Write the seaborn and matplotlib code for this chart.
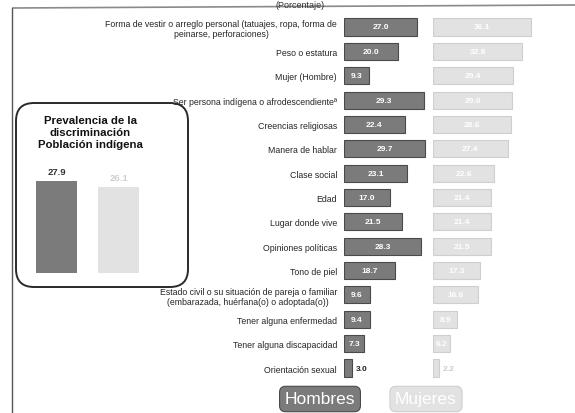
import matplotlib
matplotlib.use("Agg")
import matplotlib.pyplot as plt
from matplotlib.patches import FancyBboxPatch
import seaborn as sns
import pandas as pd

categorias = [
    "Forma de vestir o arreglo personal (tatuajes, ropa, forma de\npeinarse, perforaciones)",
    "Peso o estatura",
    "Mujer (Hombre)",
    "Ser persona indígena o afrodescendiente\u00aa",
    "Creencias religiosas",
    "Manera de hablar",
    "Clase social",
    "Edad",
    "Lugar donde vive",
    "Opiniones políticas",
    "Tono de piel",
    "Estado civil o su situación de pareja o familiar\n(embarazada, huérfana(o) o adoptada(o))",
    "Tener alguna enfermedad",
    "Tener alguna discapacidad",
    "Orientación sexual",
]
hombres = [27.0, 20.0, 9.3, 29.3, 22.4, 29.7, 23.1, 17.0, 21.5, 28.3, 18.7, 9.6, 9.4, 7.3, 3.0]
mujeres = [36.1, 32.8, 29.4, 29.0, 28.6, 27.4, 22.6, 21.4, 21.4, 21.5, 17.3, 16.6, 8.9, 6.2, 2.2]

prev_grupos = ["Hombres", "Mujeres"]
prev_valores = [27.9, 26.1]

titulo_recuadro = "Prevalencia de la\ndiscriminación\nPoblación indígena"
unidad = "(Porcentaje)"

C_H = "#7b7b7b"
C_H_EDGE = "#4a4a4a"
C_M = "#e2e2e2"
C_M_EDGE = "#cfcfcf"

sns.set_theme(style="white")
plt.rcParams["font.family"] = ["Liberation Sans", "DejaVu Sans"]

W, H = 575, 414
fig = plt.figure(figsize=(W / 100, H / 100), dpi=100)
fig.patch.set_facecolor("white")

def fx(px):
    return px / W

def fy(py):
    return 1 - py / H

# background axes in pixel coordinates for frame and inset box
bg = fig.add_axes([0, 0, 1, 1], zorder=-5)
bg.set_xlim(0, W)
bg.set_ylim(H, 0)
bg.set_axis_off()
bg.plot([12, 575], [9, 6], color="#8a8a8a", lw=1.2, solid_capstyle="butt")
bg.plot([12, 12], [9, 414], color="#555555", lw=1.0)
bg.text(300, 0.5, unidad, ha="center", va="top", fontsize=6.5, color="#333333")
box = FancyBboxPatch((16, 104), 188 - 16, 288 - 104,
                     boxstyle="round,pad=0,rounding_size=18",
                     facecolor="white", edgecolor="#2a2a2a", linewidth=1.4)
bg.add_patch(box)
bg.text(90, 133, titulo_recuadro, ha="center", va="center",
        fontsize=8.2, fontweight="bold", color="#111111", linespacing=1.3)

df = pd.DataFrame({"cat": categorias, "hombres": hombres, "mujeres": mujeres})

scale = 2.72  # px per unit
top_px, bot_px = 15.8, 381.2
ax_h = (bot_px - top_px) / H

ax1 = fig.add_axes([fx(344), fy(bot_px), 32 * scale / W, ax_h])
sns.barplot(data=df, y="cat", x="hombres", orient="h", color=C_H, saturation=1,
            width=0.7, edgecolor=C_H_EDGE, linewidth=0.8, ax=ax1)
ax1.set_xlim(0, 32)
ax1.set_ylim(14.5, -0.5)

ax2 = fig.add_axes([fx(433), fy(bot_px), 45 * scale / W, ax_h])
sns.barplot(data=df, y="cat", x="mujeres", orient="h", color=C_M, saturation=1,
            width=0.7, edgecolor=C_M_EDGE, linewidth=0.8, ax=ax2)
ax2.set_xlim(0, 45)
ax2.set_ylim(14.5, -0.5)

for ax in (ax1, ax2):
    ax.set_xlabel("")
    ax.set_ylabel("")
    ax.set_xticks([])
    for s in ax.spines.values():
        s.set_visible(False)
    ax.patch.set_alpha(0)

ax1.tick_params(axis="y", length=0, pad=5)
for t in ax1.get_yticklabels():
    t.set_fontsize(6.3)
    t.set_multialignment("center")
ax2.set_yticks([])

# bar labels
cont1 = ax1.containers[0]
lab_in = [f"{v:.1f}" if v >= 5 else "" for v in hombres]
lab_out = [f"{v:.1f}" if v < 5 else "" for v in hombres]
ax1.bar_label(cont1, labels=lab_in, label_type="center", color="white",
              fontsize=6, fontweight="bold")
ax1.bar_label(cont1, labels=lab_out, padding=3, color="#222222",
              fontsize=6, fontweight="bold")
cont2 = ax2.containers[0]
lab_in = [f"{v:.1f}" if v >= 5 else "" for v in mujeres]
lab_out = [f"{v:.1f}" if v < 5 else "" for v in mujeres]
ax2.bar_label(cont2, labels=lab_in, label_type="center", color="white",
              fontsize=6, fontweight="bold")
ax2.bar_label(cont2, labels=lab_out, padding=3, color="#cccccc",
              fontsize=6, fontweight="bold")

# inset bars
axi = fig.add_axes([fx(25.5), fy(274), 124 / W, 92 / H])
dfi = pd.DataFrame({"g": prev_grupos, "v": prev_valores})
sns.barplot(data=dfi, x="g", y="v", hue="g", palette=[C_H, C_M], saturation=1,
            width=0.66, legend=False, ax=axi, edgecolor="none")
axi.set_xlim(-0.5, 1.5)
axi.set_ylim(0, 27.95)
axi.set_axis_off()
for cont, col in zip(axi.containers, ["#333333", "#cfcfcf"]):
    axi.bar_label(cont, fmt="%.1f", padding=4, color=col, fontsize=6.8,
                  fontweight="bold")

# legend boxes
fig.text(fx(320), fy(400), "Hombres", ha="center", va="center", fontsize=12.5,
         color="white",
         bbox=dict(boxstyle="round,pad=0.3,rounding_size=0.35", fc=C_H, ec=C_H_EDGE, lw=0.8))
fig.text(fx(426), fy(400), "Mujeres", ha="center", va="center", fontsize=12.5,
         color="white",
         bbox=dict(boxstyle="round,pad=0.3,rounding_size=0.35", fc=C_M, ec=C_M_EDGE, lw=0.8))

fig.savefig("out.png", dpi=100, facecolor="white")
